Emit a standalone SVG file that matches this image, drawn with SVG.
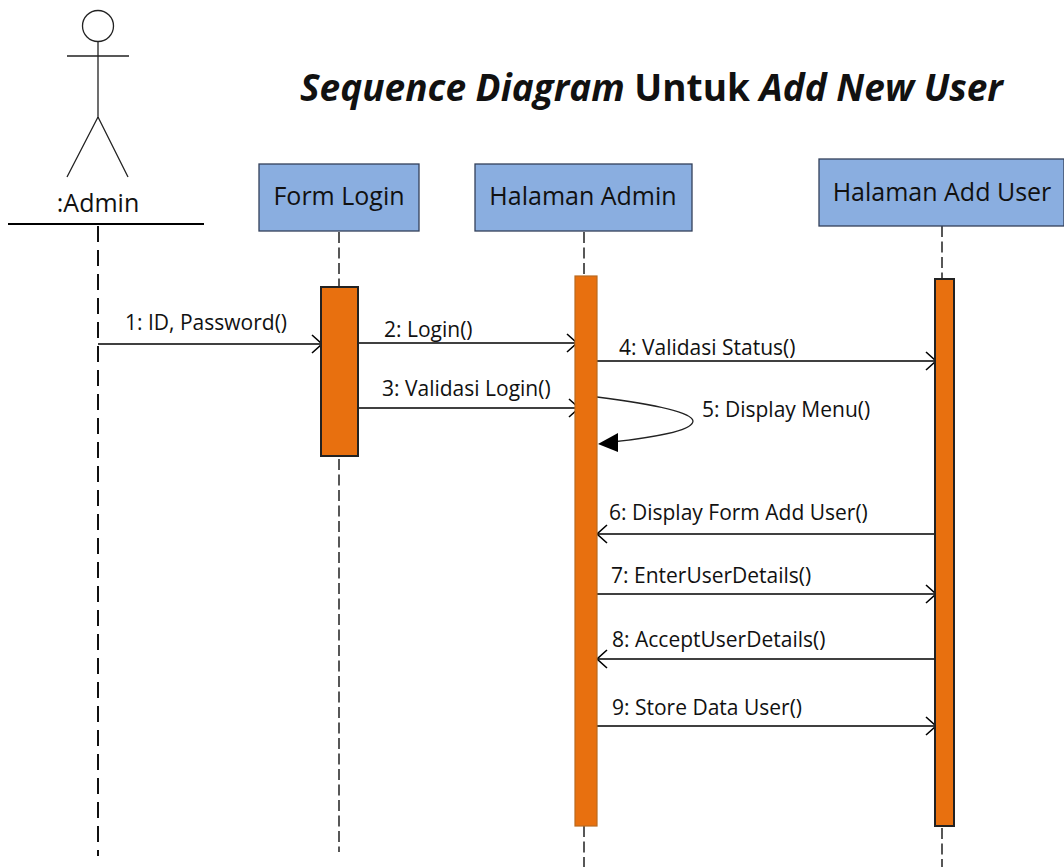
<svg xmlns="http://www.w3.org/2000/svg" width="1064" height="867" viewBox="0 0 1064 867">
<style>
text{font-family:"Open Sans","Noto Sans","Liberation Sans",sans-serif;fill:#111}
.m{font-size:21px}
.h{font-size:25px}
.box{fill:#8aaee0;stroke:#33405a;stroke-width:1.3}
.act{fill:#e8700f;stroke:#222;stroke-width:2}
.ll{stroke:#111;stroke-width:1.4;stroke-dasharray:11 4.5;fill:none}
.lla{stroke:#111;stroke-width:2;stroke-dasharray:16 8;fill:none}
.msg{stroke:#000;stroke-width:1.7;fill:none;marker-end:url(#o)}
.st{stroke:#222;stroke-width:1.3;fill:none}
</style>
<defs><marker id="o" markerUnits="userSpaceOnUse" markerWidth="14" markerHeight="22" refX="12" refY="10" orient="auto"><path d="M2 1L12 10L2 19" fill="none" stroke="#000" stroke-width="1.6"/></marker></defs>
<text x="300" y="101" font-size="37" font-weight="700"><tspan font-style="italic">Sequence Diagram</tspan> Untuk <tspan font-style="italic">Add New User</tspan></text>
<g id="connectors">
<path class="lla" d="M98 226V856"/><path class="ll" d="M339 232V287M339 459V852"/><path class="ll" d="M584 232V276M584 826V867"/><path class="ll" d="M942 226V279M942 828V867"/>
<path class="msg" d="M98 344H322"/><path class="msg" d="M358 343H577"/><path class="msg" d="M358 408H579"/><path class="msg" d="M597 361H936"/>
<path class="msg" d="M934 534H597"/><path class="msg" d="M597 594H936"/><path class="msg" d="M934 659H597"/><path class="msg" d="M597 726H936"/>
<path class="st" d="M597 397C660 405 692 413 693 421C693 431 650 438 612 442"/><path d="M598 444L618 433V452Z"/>
</g>
<g id="actor-admin"><circle class="st" cx="98" cy="26" r="15.5"/><path class="st" d="M98 41V117M67 56H129M98 117L67 177M98 117L128 177"/><path d="M8 224H204" stroke="#000" stroke-width="2"/><text class="h" x="98" y="212" text-anchor="middle">:Admin</text></g>
<g id="form-login"><rect class="box" x="259" y="164" width="160" height="67"/><text class="h" x="339" y="205" text-anchor="middle">Form Login</text></g>
<g id="halaman-admin"><rect class="box" x="475" y="164" width="217" height="67"/><text class="h" x="583" y="205" text-anchor="middle">Halaman Admin</text></g>
<g id="halaman-add-user"><rect class="box" x="819" y="159" width="245" height="67"/><text class="h" x="942" y="201" text-anchor="middle">Halaman Add User</text></g>
<g id="act-login"><rect class="act" x="321" y="287" width="37" height="169"/></g>
<g id="act-admin"><rect class="act" x="575" y="276" width="22" height="550" style="stroke:#b9691f;stroke-width:1.2"/></g>
<g id="act-user"><rect class="act" x="935" y="279" width="19" height="547"/></g>
<g id="labels">
<text class="m" x="125" y="330">1: ID, Password()</text><text class="m" x="384" y="337">2: Login()</text><text class="m" x="382" y="396">3: Validasi Login()</text><text class="m" x="619" y="355">4: Validasi Status()</text><text class="m" x="702" y="417">5: Display Menu()</text><text class="m" x="609" y="520">6: Display Form Add User()</text><text class="m" x="611" y="583">7: EnterUserDetails()</text><text class="m" x="612" y="647">8: AcceptUserDetails()</text><text class="m" x="612" y="715">9: Store Data User()</text>
</g>
</svg>
